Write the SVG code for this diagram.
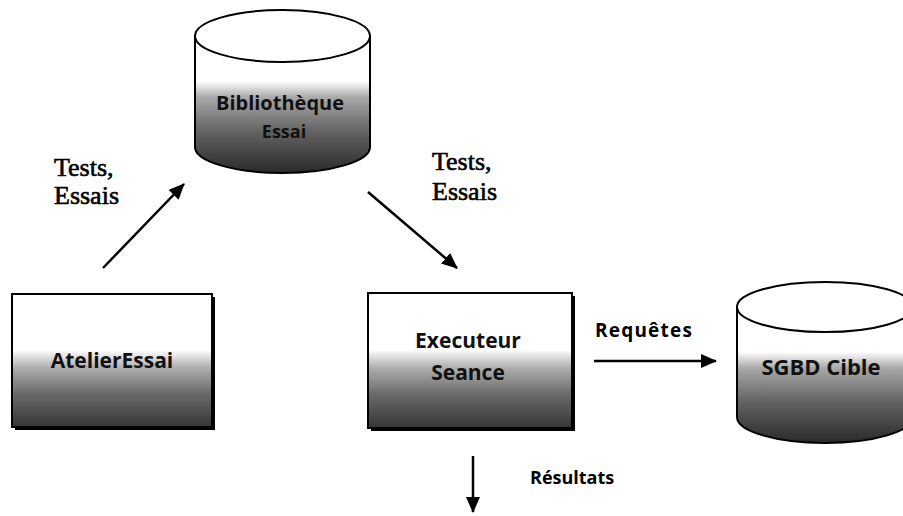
<svg xmlns="http://www.w3.org/2000/svg" width="903" height="516" viewBox="0 0 903 516">
  <defs>
    <!-- body shading: white upper half fading to dark grey -->
    <linearGradient id="shade" x1="0" y1="0" x2="0" y2="1">
      <stop offset="0" stop-color="#ffffff"/>
      <stop offset="0.42" stop-color="#ffffff"/>
      <stop offset="0.55" stop-color="#b0b0b0"/>
      <stop offset="0.75" stop-color="#6a6a6a"/>
      <stop offset="1" stop-color="#353535"/>
    </linearGradient>
    <linearGradient id="shadeCyl" x1="0" y1="0" x2="0" y2="1">
      <stop offset="0" stop-color="#ffffff"/>
      <stop offset="0.33" stop-color="#ffffff"/>
      <stop offset="0.45" stop-color="#a8a8a8"/>
      <stop offset="0.7" stop-color="#626262"/>
      <stop offset="1" stop-color="#2a2a2a"/>
    </linearGradient>
    <marker id="arrow" viewBox="0 0 16 14" refX="15" refY="7" markerWidth="16" markerHeight="14" markerUnits="userSpaceOnUse" orient="auto">
      <path d="M0,0 L16,7 L0,14 Z" fill="#000"/>
    </marker>
  </defs>
  <style>
    .outline { stroke: #000; stroke-width: 2; }
    .node-label { font-family: "Open Sans", "Liberation Sans", sans-serif; font-weight: 700; fill: #111; text-anchor: middle; }
    .edge-label { font-family: "Open Sans", "Liberation Sans", sans-serif; font-weight: 700; fill: #000; }
    .serif-label { font-family: "Liberation Serif", "Times New Roman", serif; font-size: 26px; fill: #000; stroke: #000; stroke-width: 0.6; }
    .edge { stroke: #000; stroke-width: 2.5; fill: none; marker-end: url(#arrow); }
  </style>

  <rect width="903" height="516" fill="#ffffff"/>

  <!-- library store -->
  <g id="bibliotheque">
    <path class="outline" fill="url(#shadeCyl)" d="M195,36 V147 A87.5,26 0 0 0 370,147 V36 Z"/>
    <ellipse class="outline" cx="282.5" cy="36" rx="87.5" ry="26" fill="#ffffff"/>
    <text class="node-label" x="280" y="110" font-size="20">Bibliothèque</text>
    <text class="node-label" x="284" y="138" font-size="18" fill="#3a3a3a">Essai</text>
  </g>

  <!-- test workshop -->
  <g id="atelier-essai">
    <rect x="15" y="297" width="200" height="133" fill="#000"/>
    <rect class="outline" x="12" y="294" width="200" height="133" fill="url(#shade)"/>
    <text class="node-label" x="112" y="368" font-size="21">AtelierEssai</text>
  </g>

  <!-- session runner -->
  <g id="executeur-seance">
    <rect x="371" y="296" width="204" height="135" fill="#000"/>
    <rect class="outline" x="368" y="293" width="204" height="135" fill="url(#shade)"/>
    <text class="node-label" x="468" y="348" font-size="21">Executeur</text>
    <text class="node-label" x="468" y="380" font-size="21">Seance</text>
  </g>

  <!-- target DBMS -->
  <g id="sgbd-cible">
    <path class="outline" fill="url(#shadeCyl)" d="M737,307 V417 A88,26 0 0 0 913,417 V307 Z"/>
    <ellipse class="outline" cx="825" cy="307" rx="88" ry="25" fill="#ffffff"/>
    <text class="node-label" x="821" y="375" font-size="22">SGBD Cible</text>
  </g>

  <!-- connectors -->
  <g id="connectors">
    <line class="edge" x1="103" y1="268" x2="184" y2="184"/>
    <line class="edge" x1="368" y1="192" x2="457" y2="268"/>
    <line class="edge" x1="594" y1="361" x2="716" y2="361"/>
    <line class="edge" x1="473" y1="456" x2="473" y2="512"/>
  </g>

  <!-- connector labels -->
  <g id="labels">
    <text class="serif-label" x="54" y="176">Tests,</text>
    <text class="serif-label" x="54" y="204">Essais</text>
    <text class="serif-label" x="432" y="170">Tests,</text>
    <text class="serif-label" x="432" y="200">Essais</text>
    <text class="edge-label" x="595" y="337" font-size="19" letter-spacing="1.2">Requêtes</text>
    <text class="edge-label" x="530" y="484" font-size="18">Résultats</text>
  </g>
</svg>
